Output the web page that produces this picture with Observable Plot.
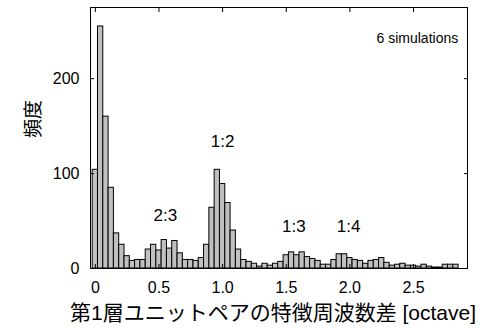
<!DOCTYPE html>
<html><head><meta charset="utf-8">
<script src="https://cdn.jsdelivr.net/npm/d3@7"></script>
<script src="https://cdn.jsdelivr.net/npm/@observablehq/plot@0.6"></script>
<style>body{margin:0;background:#fff;}</style>
</head><body><div id="chart"></div>
<script>
// Histogram bin width (octave) and counts per bin (bin centers at i * binWidth)
const binWidth = 1 / 24;
const counts = [104,255,160,85,37,25,13,8,9,9,
                20,25,19,30,21,29,16,9,9,8,
                11,25,64,104,89,69,40,20,9,7,
                5,2,5,3,5,7,14,17,14,17,
                12,10,8,4,4,9,15,15,11,9,
                8,5,8,9,11,6,3,4,5,3,
                3,2,4,2,1,1,4,4,4];
const xTicks = [0, 0.5, 1, 1.5, 2, 2.5];
const xTickLabels = ["0", "0.5", "1.0", "1.5", "2.0", "2.5"];
const yTicks = [0, 100, 200];
const yTickLabels = ["0", "100", "200"];
const annoLabels = ["2:3", "1:2", "1:3", "1:4"];
const annoX = [0.55, 1.0, 1.56, 1.99];
const annoY = [56, 134, 44, 44];
const noteText = "6 simulations";
const noteX = 2.53, noteY = 242;
const xLabel = "第1層ユニットペアの特徴周波数差 [octave]";
const yLabel = "頻度";

const bins = counts.map((c, i) => ({x1: (i - 0.5) * binWidth, x2: (i + 0.5) * binWidth, count: c}));
const annotations = annoLabels.map((t, i) => ({label: t, x: annoX[i], y: annoY[i]}));

const font = "'Liberation Sans', Arial, 'Noto Sans CJK JP', sans-serif";
const chart = Plot.plot({
  width: 484, height: 328,
  marginLeft: 90, marginRight: 17, marginTop: 7, marginBottom: 60,
  x: {domain: [-0.038, 2.924]},
  y: {domain: [0, 275]},
  style: {fontFamily: font, fontSize: "15px", color: "#000", background: "#fff", overflow: "visible"},
  marks: [
    Plot.rectY(bins, {x1: "x1", x2: "x2", y: "count", fill: "#c0c0c0", stroke: "#000", strokeWidth: 1}),
    Plot.frame({stroke: "#000", strokeWidth: 1}),
    Plot.axisX(xTicks, {anchor: "bottom", tickSize: -4, tickPadding: 17, fontSize: 16,
      tickFormat: d => xTickLabels[xTicks.indexOf(d)], label: null}),
    Plot.axisX(xTicks, {anchor: "top", tickSize: -4, tickFormat: () => "", label: null}),
    Plot.axisY(yTicks, {anchor: "left", tickSize: -4, tickPadding: 15, fontSize: 16,
      tickFormat: d => yTickLabels[yTicks.indexOf(d)], label: null}),
    Plot.axisY(yTicks, {anchor: "right", tickSize: -4, tickFormat: () => "", label: null}),
    Plot.text([xLabel], {frameAnchor: "bottom", lineAnchor: "middle", dy: 45, fontSize: 21, dx: -6}),
    Plot.text([yLabel], {frameAnchor: "left", rotate: -90, dx: -57, fontSize: 19}),
    Plot.text(annotations, {x: "x", y: "y", text: "label", fontSize: 17}),
    Plot.text([noteText], {x: noteX, y: noteY, fontSize: 14})
  ]
});
document.getElementById("chart").appendChild(chart);
</script>
</body></html>
